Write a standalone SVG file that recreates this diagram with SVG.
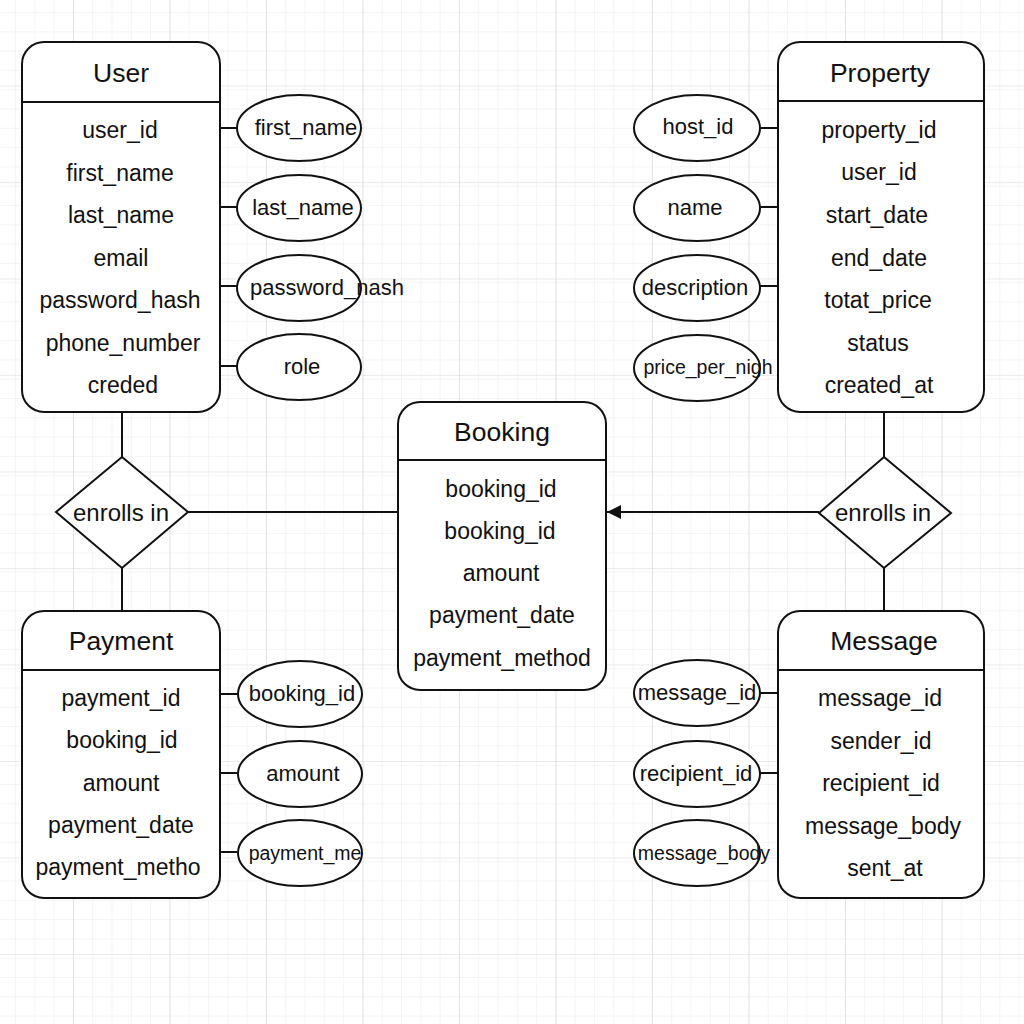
<svg xmlns="http://www.w3.org/2000/svg" width="1024" height="1024" viewBox="0 0 1024 1024">
<defs>
<pattern id="minor" width="19.3" height="19.3" patternUnits="userSpaceOnUse" x="15" y="12">
<path d="M0 0H19.3M0 0V19.3" fill="none" stroke="#ececec" stroke-width="1"/>
</pattern>
<pattern id="major" width="96.5" height="96.5" patternUnits="userSpaceOnUse" x="73" y="85.5">
<path d="M0 0H96.5M0 0V96.5" fill="none" stroke="#d8d8d8" stroke-width="1.2"/>
</pattern>
<marker id="arrow" viewBox="0 0 10 10" refX="10" refY="5" markerWidth="14" markerHeight="14" markerUnits="userSpaceOnUse" orient="auto">
<path d="M0 0L10 5L0 10Z" fill="#111"/>
</marker>
</defs>
<style>
.box{fill:#fff;stroke:#111;stroke-width:2}
.ell{fill:#fff;stroke:#111;stroke-width:2}
.ln{stroke:#111;stroke-width:2;fill:none}
.title{font-family:"Liberation Sans",Arial,sans-serif;font-size:26.5px;fill:#111;text-anchor:middle}
.attr{font-family:"Liberation Sans",Arial,sans-serif;font-size:23px;fill:#111;text-anchor:middle}
.et{font-family:"Liberation Sans",Arial,sans-serif;font-size:22px;fill:#111;text-anchor:middle}
.es{font-family:"Liberation Sans",Arial,sans-serif;font-size:19.5px;fill:#111;text-anchor:middle}
.dt{font-family:"Liberation Sans",Arial,sans-serif;font-size:24px;fill:#111;text-anchor:middle}
</style>
<rect width="1024" height="1024" fill="#fff"/>
<rect width="1024" height="1024" fill="url(#minor)"/>
<rect width="1024" height="1024" fill="url(#major)"/>

<g id="connectors">
<line class="ln" x1="122" y1="412" x2="122" y2="457"/>
<line class="ln" x1="122" y1="568" x2="122" y2="611"/>
<line class="ln" x1="188" y1="512" x2="398" y2="512"/>
<line class="ln" x1="884" y1="412" x2="884" y2="457"/>
<line class="ln" x1="884" y1="568" x2="884" y2="611"/>
<line class="ln" x1="819" y1="512" x2="607" y2="512" marker-end="url(#arrow)"/>
<line class="ln" x1="220" y1="128" x2="237" y2="128"/>
<line class="ln" x1="220" y1="207" x2="237" y2="207"/>
<line class="ln" x1="220" y1="286" x2="237" y2="286"/>
<line class="ln" x1="220" y1="366" x2="237" y2="366"/>
<line class="ln" x1="760" y1="128" x2="778" y2="128"/>
<line class="ln" x1="760" y1="207" x2="778" y2="207"/>
<line class="ln" x1="760" y1="286" x2="778" y2="286"/>
<line class="ln" x1="220" y1="694" x2="237" y2="694"/>
<line class="ln" x1="220" y1="773" x2="237" y2="773"/>
<line class="ln" x1="220" y1="852" x2="237" y2="852"/>
<line class="ln" x1="760" y1="693" x2="778" y2="693"/>
<line class="ln" x1="760" y1="773" x2="778" y2="773"/>
</g>

<g id="user">
<rect class="box" x="22" y="42" width="198" height="370" rx="22"/>
<line class="ln" x1="22" y1="102" x2="220" y2="102"/>
<text class="title" x="121" y="82">User</text>
<text class="attr" x="120" y="138">user_id</text>
<text class="attr" x="120" y="181">first_name</text>
<text class="attr" x="121" y="223">last_name</text>
<text class="attr" x="121" y="266">email</text>
<text class="attr" x="120" y="308">password_hash</text>
<text class="attr" x="123" y="351">phone_number</text>
<text class="attr" x="123" y="393">creded</text>
</g>

<g id="user-first_name"><ellipse class="ell" cx="299" cy="128" rx="62" ry="33"/><text class="et" x="306" y="135">first_name</text></g>
<g id="user-last_name"><ellipse class="ell" cx="299" cy="208" rx="62" ry="33"/><text class="et" x="303" y="215">last_name</text></g>
<g id="user-password_hash"><ellipse class="ell" cx="299" cy="288" rx="62" ry="33"/><text class="et" x="327" y="295">password_nash</text></g>
<g id="user-role"><ellipse class="ell" cx="299" cy="367" rx="62" ry="33"/><text class="et" x="302" y="374">role</text></g>

<g id="property">
<rect class="box" x="778" y="42" width="206" height="370" rx="22"/>
<line class="ln" x1="778" y1="101" x2="984" y2="101"/>
<text class="title" x="880" y="82">Property</text>
<text class="attr" x="879" y="138">property_id</text>
<text class="attr" x="879" y="180">user_id</text>
<text class="attr" x="877" y="223">start_date</text>
<text class="attr" x="879" y="266">end_date</text>
<text class="attr" x="878" y="308">totat_price</text>
<text class="attr" x="878" y="351">status</text>
<text class="attr" x="879" y="393">created_at</text>
</g>

<g id="property-host_id"><ellipse class="ell" cx="697" cy="128" rx="63" ry="33"/><text class="et" x="698" y="134">host_id</text></g>
<g id="property-name"><ellipse class="ell" cx="697" cy="208" rx="63" ry="33"/><text class="et" x="695" y="215">name</text></g>
<g id="property-description"><ellipse class="ell" cx="697" cy="288" rx="63" ry="33"/><text class="et" x="695" y="295">description</text></g>
<g id="property-price_per_night"><ellipse class="ell" cx="697" cy="368" rx="63" ry="33"/><text class="es" x="708" y="374">price_per_nigh</text></g>

<g id="booking">
<rect class="box" x="398" y="402" width="208" height="288" rx="22"/>
<line class="ln" x1="398" y1="460" x2="606" y2="460"/>
<text class="title" x="502" y="441">Booking</text>
<text class="attr" x="501" y="497">booking_id</text>
<text class="attr" x="500" y="539">booking_id</text>
<text class="attr" x="501" y="581">amount</text>
<text class="attr" x="502" y="623">payment_date</text>
<text class="attr" x="502" y="666">payment_method</text>
</g>

<g id="enrolls-left">
<polygon class="box" points="122,457 188,512 122,568 56,512"/>
<text class="dt" x="121" y="521">enrolls in</text>
</g>

<g id="enrolls-right">
<polygon class="box" points="884,457 951,513 884,568 819,513"/>
<text class="dt" x="883" y="521">enrolls in</text>
</g>

<g id="payment">
<rect class="box" x="22" y="611" width="198" height="287" rx="22"/>
<line class="ln" x1="22" y1="670" x2="220" y2="670"/>
<text class="title" x="121" y="650">Payment</text>
<text class="attr" x="121" y="706">payment_id</text>
<text class="attr" x="122" y="748">booking_id</text>
<text class="attr" x="121" y="791">amount</text>
<text class="attr" x="121" y="833">payment_date</text>
<text class="attr" x="118" y="875">payment_metho</text>
</g>

<g id="payment-booking_id"><ellipse class="ell" cx="300" cy="694" rx="62" ry="33"/><text class="et" x="302" y="701">booking_id</text></g>
<g id="payment-amount"><ellipse class="ell" cx="300" cy="774" rx="62" ry="33"/><text class="et" x="303" y="781">amount</text></g>
<g id="payment-payment_method"><ellipse class="ell" cx="300" cy="853" rx="62" ry="33"/><text class="es" x="305" y="860">payment_me</text></g>

<g id="message">
<rect class="box" x="778" y="611" width="206" height="287" rx="22"/>
<line class="ln" x1="778" y1="670" x2="984" y2="670"/>
<text class="title" x="884" y="650">Message</text>
<text class="attr" x="880" y="706">message_id</text>
<text class="attr" x="881" y="749">sender_id</text>
<text class="attr" x="881" y="791">recipient_id</text>
<text class="attr" x="883" y="834">message_body</text>
<text class="attr" x="885" y="876">sent_at</text>
</g>

<g id="message-message_id"><ellipse class="ell" cx="697" cy="693" rx="63" ry="33"/><text class="et" x="697" y="700">message_id</text></g>
<g id="message-recipient_id"><ellipse class="ell" cx="697" cy="774" rx="63" ry="33"/><text class="et" x="696" y="781">recipient_id</text></g>
<g id="message-message_body"><ellipse class="ell" cx="697" cy="853" rx="63" ry="33"/><text class="es" x="704" y="860">message_body</text></g>
</svg>
